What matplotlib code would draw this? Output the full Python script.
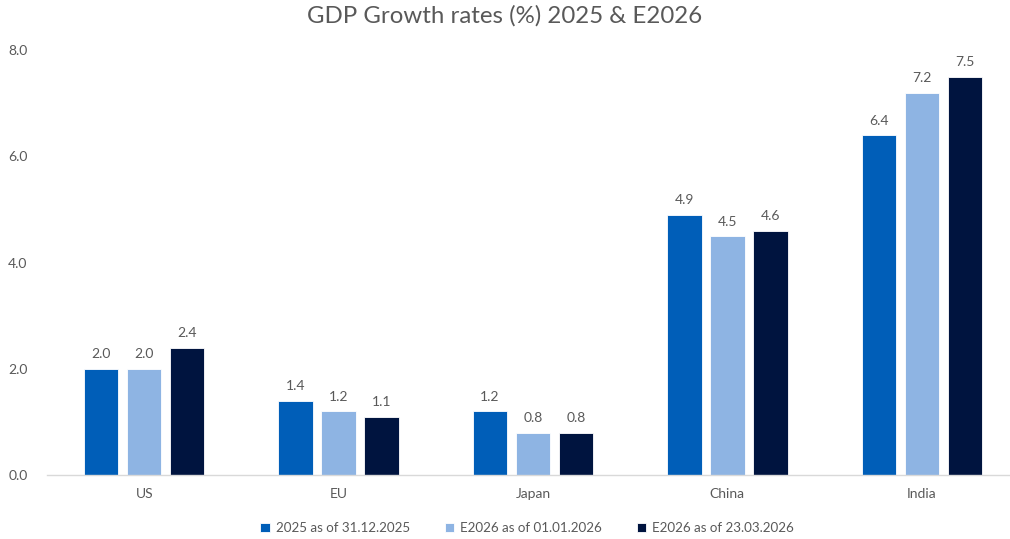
import numpy as np
import matplotlib.pyplot as plt

# GDP growth by region
regions = ["US", "EU", "Japan", "China", "India"]
gdp_2025 = [2.0, 1.4, 1.2, 4.9, 6.4]
gdp_e2026_jan = [2.0, 1.2, 0.8, 4.5, 7.2]
gdp_e2026_mar = [2.4, 1.1, 0.8, 4.6, 7.5]
series_labels = ["2025 as of 31.12.2025", "E2026 as of 01.01.2026", "E2026 as of 23.03.2026"]

colors = ["#005EB8", "#8EB4E3", "#00143F"]
text_color = "#595959"

plt.rcParams['font.family'] = ['Lato', 'DejaVu Sans']

fig = plt.figure(figsize=(10.1, 5.39), dpi=100)
ax = fig.add_axes([47 / 1010, 1 - 475 / 539, 963 / 1010, 425 / 539])

x = np.arange(len(regions))
width = 0.177
step = 0.221
for i, (vals, col, lab) in enumerate(zip([gdp_2025, gdp_e2026_jan, gdp_e2026_mar], colors, series_labels)):
    bars = ax.bar(x + (i - 1) * step, vals, width, color=col, label=lab,
                  edgecolor="white", linewidth=0.6)
    for b, v in zip(bars, vals):
        ax.annotate(f"{v:.1f}", (b.get_x() + b.get_width() / 2, v),
                    xytext=(0, 6), textcoords="offset points",
                    ha="center", va="bottom", fontsize=10, color=text_color)

ax.set_xlim(-0.5, 4.454)
ax.set_ylim(0, 8)
ax.set_yticks([0, 2, 4, 6, 8])
ax.set_yticklabels([f"{t:.1f}" for t in [0, 2, 4, 6, 8]])
ax.set_xticks(x)
ax.set_xticklabels(regions)
ax.tick_params(axis="both", length=0, labelsize=10, colors=text_color)
ax.tick_params(axis="x", pad=9)
ax.tick_params(axis="y", pad=14)

for side in ["top", "right", "left"]:
    ax.spines[side].set_visible(False)
ax.spines["bottom"].set_color("#D9D9D9")
ax.spines["bottom"].set_linewidth(1)

fig.text(0.5, 1 - 16 / 539, "GDP Growth rates (%) 2025 & E2026", ha="center", va="center",
         fontsize=17.3, color=text_color)

fig.legend(loc="center", bbox_to_anchor=(0.522, 1 - 528 / 539), ncol=3, frameon=False,
           fontsize=9.6, labelcolor=text_color, handlelength=0.72, handleheight=0.72,
           handletextpad=0.45, columnspacing=2.6)

fig.savefig("out.png", dpi=100)
